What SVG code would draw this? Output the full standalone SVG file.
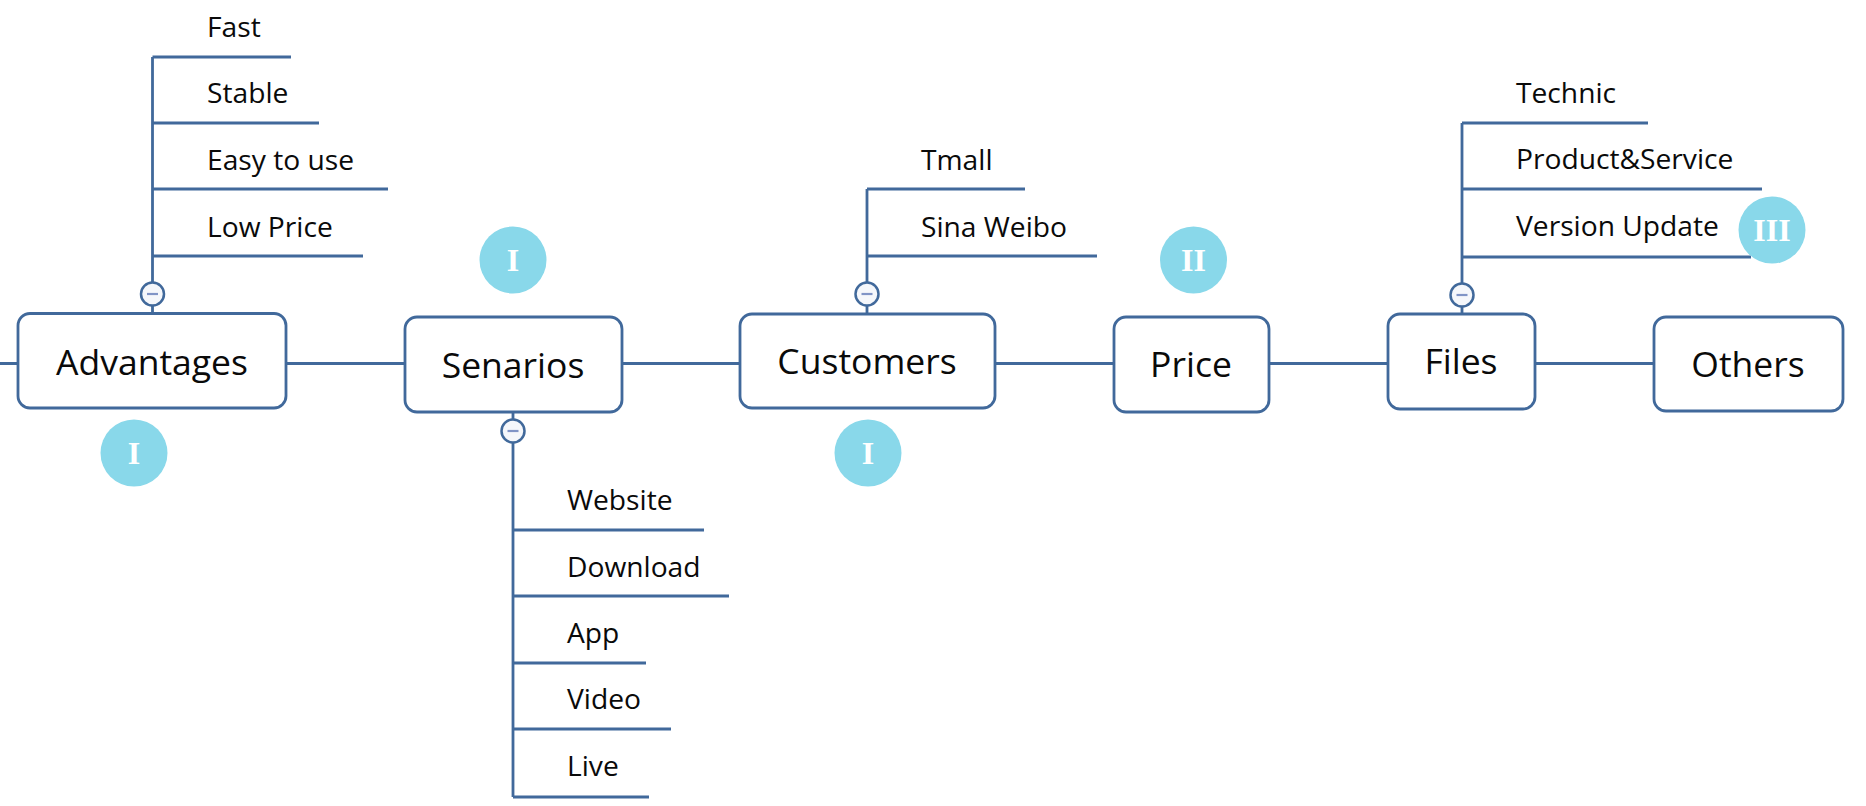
<svg xmlns="http://www.w3.org/2000/svg" width="1866" height="806" viewBox="0 0 1866 806">
<style>
.box{fill:#ffffff;stroke:#41699b;stroke-width:2.8}
.ln{stroke:#41699b;stroke-width:2.8;fill:none}
.nt{font-family:"Open Sans","Noto Sans",sans-serif;font-size:35.5px;fill:#0a0a0a;text-anchor:middle}
.ct{font-family:"Open Sans","Noto Sans",sans-serif;font-size:28.2px;fill:#0a0a0a}
.tog{fill:#f5f7fb;stroke:#41699b;stroke-width:2.5}
.mn{stroke:#8094c6;stroke-width:2.2}
.bd{fill:#89d8ea}
.bt{font-family:"Liberation Serif","Times New Roman",serif;font-size:32px;font-weight:bold;fill:#ffffff;text-anchor:middle}
</style>
<rect width="1866" height="806" fill="#ffffff"/>
<g id="connectors">
<path class="ln" d="M0 363.5H18M286 363.5H405M622 363.5H740M995 363.5H1114M1269 363.5H1388M1535 363.5H1654"/>
<path class="ln" d="M152.5 57V282.5M152.5 305.5V313.5M152.5 57H291M152.5 123H319M152.5 189H388M152.5 256H363"/>
<path class="ln" d="M513 412V419.5M513 442.5V797M513 530H704M513 596H729M513 663H646M513 729H671M513 797H649"/>
<path class="ln" d="M867 189V282.5M867 305.5V314M867 189H1025M867 256H1097"/>
<path class="ln" d="M1462 123V283.5M1462 306.5V314M1462 123H1648M1462 189H1762M1462 257H1751"/>
</g>
<g id="node-advantages">
<rect class="box" x="18" y="313.5" width="268" height="94.5" rx="12"/>
<text class="nt" x="152" y="375">Advantages</text>
<circle class="tog" cx="152.5" cy="294" r="11.5"/><line class="mn" x1="147" y1="294" x2="158" y2="294"/>
</g>
<g id="advantages-children">
<text class="ct" x="207" y="37">Fast</text>
<text class="ct" x="207" y="103">Stable</text>
<text class="ct" x="207" y="170">Easy to use</text>
<text class="ct" x="207" y="237">Low Price</text>
</g>
<g id="node-senarios">
<rect class="box" x="405" y="317" width="217" height="95" rx="12"/>
<text class="nt" x="513" y="378">Senarios</text>
<circle class="tog" cx="513" cy="431" r="11.5"/><line class="mn" x1="507.5" y1="431" x2="518.5" y2="431"/>
</g>
<g id="senarios-children">
<text class="ct" x="567" y="510">Website</text>
<text class="ct" x="567" y="577">Download</text>
<text class="ct" x="567" y="643">App</text>
<text class="ct" x="567" y="709">Video</text>
<text class="ct" x="567" y="776">Live</text>
</g>
<g id="node-customers">
<rect class="box" x="740" y="314" width="255" height="94" rx="12"/>
<text class="nt" x="867" y="374">Customers</text>
<circle class="tog" cx="867" cy="294" r="11.5"/><line class="mn" x1="861.5" y1="294" x2="872.5" y2="294"/>
</g>
<g id="customers-children">
<text class="ct" x="921" y="170">Tmall</text>
<text class="ct" x="921" y="237">Sina Weibo</text>
</g>
<g id="node-price">
<rect class="box" x="1114" y="317" width="155" height="95" rx="12"/>
<text class="nt" x="1191" y="377">Price</text>
</g>
<g id="node-files">
<rect class="box" x="1388" y="314" width="147" height="95" rx="12"/>
<text class="nt" x="1461" y="374">Files</text>
<circle class="tog" cx="1462" cy="295" r="11.5"/><line class="mn" x1="1456.5" y1="295" x2="1467.5" y2="295"/>
</g>
<g id="files-children">
<text class="ct" x="1516" y="103">Technic</text>
<text class="ct" x="1516" y="169">Product&amp;Service</text>
<text class="ct" x="1516" y="236">Version Update</text>
</g>
<g id="node-others">
<rect class="box" x="1654" y="317" width="189" height="94" rx="12"/>
<text class="nt" x="1748" y="377">Others</text>
</g>
<g id="badges">
<g id="badge-senarios"><circle class="bd" cx="513" cy="260" r="33.5"/><text class="bt" x="513" y="271">I</text></g>
<g id="badge-advantages"><circle class="bd" cx="134" cy="453" r="33.5"/><text class="bt" x="134" y="464">I</text></g>
<g id="badge-customers"><circle class="bd" cx="868" cy="453" r="33.5"/><text class="bt" x="868" y="464">I</text></g>
<g id="badge-price"><circle class="bd" cx="1193.5" cy="260" r="33.5"/><text class="bt" x="1193.5" y="271">II</text></g>
<g id="badge-files"><circle class="bd" cx="1772" cy="230" r="33.5"/><text class="bt" x="1772" y="241">III</text></g>
</g>
</svg>
